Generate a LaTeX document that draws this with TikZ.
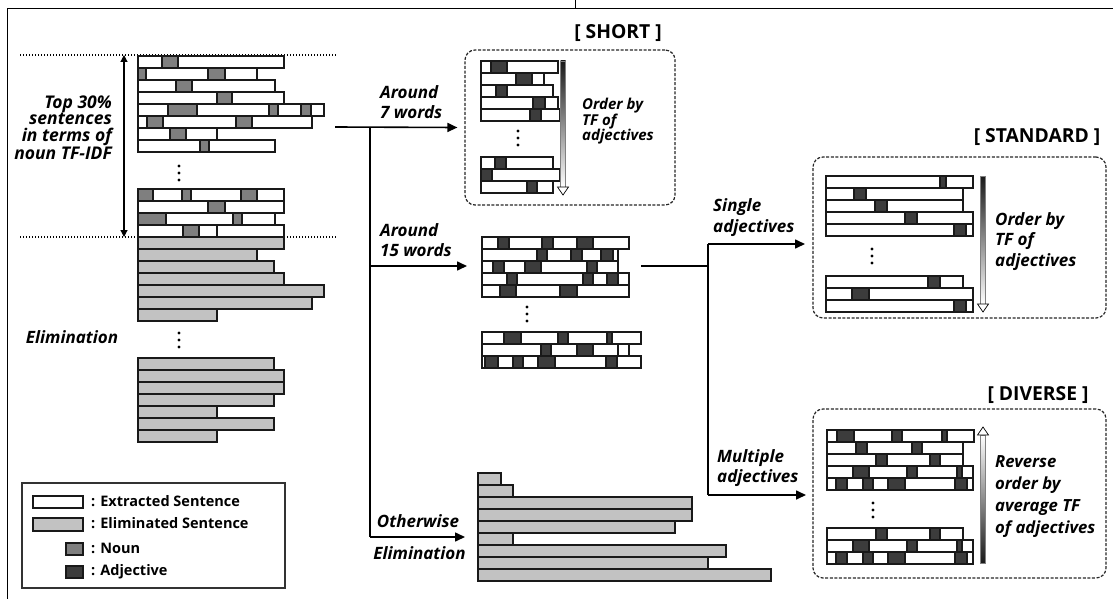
\documentclass[tikz,border=0pt]{standalone}
\usepackage{fontspec}
\setmainfont{Open Sans}
\usetikzlibrary{arrows.meta}
\definecolor{nounc}{HTML}{7F7F7F}
\definecolor{adjc}{HTML}{3C3C3C}
\definecolor{elimc}{HTML}{C2C2C2}
\tikzset{
  bar/.style={draw=black!90, line width=1.1pt, fill=white},
  dashbox/.style={draw=black!85, line width=1.2pt, dash pattern=on 3pt off 1.6pt, rounded corners=10pt, inner sep=0pt},
  conn/.style={line width=1.6pt, -{Triangle[length=10pt,width=9pt]}},
  plain/.style={line width=1.6pt},
  frame/.style={line width=1pt},
  dotline/.style={line width=1.6pt, dash pattern=on 1.4pt off 1.6pt},
  lab/.style={font=\bfseries\itshape\fontsize{17}{20.5}\selectfont, inner sep=0pt},
  side/.style={font=\bfseries\itshape\fontsize{17}{15}\selectfont, inner sep=0pt},
  title/.style={font=\bfseries\fontsize{19.3}{22}\selectfont, inner sep=0pt},
  legtext/.style={font=\bfseries\fontsize{14.5}{18}\selectfont, inner sep=0pt, anchor=west},
}
\newcommand\sent[4]{%
  \draw[bar] (#2,#1) rectangle (#3,#1+12);
  \foreach \ca/\cb/\cc in {#4} {\draw[bar,fill=\cc] (\ca,#1) rectangle (\cb,#1+12);}
}
\newcommand\ebar[3]{\draw[bar,fill=elimc] (#2,#1) rectangle (#3,#1+12);}
\newcommand\tdots[2]{\foreach \dd in {0,7,14} {\fill (#1,#2+\dd) circle (1.6pt);}}
\newcommand\gdown[3]{% x, top, tip
  \shade[top color=black!90, bottom color=white, draw=black!50, line width=0.4pt] (#1-2.5,#2) rectangle (#1+2.5,#3-8);
  \draw[line width=0.7pt, fill=white] (#1-5.5,#3-8) -- (#1+5.5,#3-8) -- (#1,#3) -- cycle;}
\newcommand\gup[3]{% x, tip, bottom
  \shade[top color=white, bottom color=black!90, draw=black!50, line width=0.4pt] (#1-2.5,#2+8) rectangle (#1+2.5,#3);
  \draw[line width=0.7pt, fill=white] (#1-5.5,#2+8) -- (#1+5.5,#2+8) -- (#1,#2) -- cycle;}
\begin{document}
\begin{tikzpicture}[x=1pt,y=-1pt]
\useasboundingbox (0,0) rectangle (1113,599);
% frame
\draw[frame] (7,599) -- (7,9) -- (1113,9);
\draw[frame] (575,0) -- (575,9);

% ---------- left block ----------
\draw[dotline] (20,55) -- (337,55);
\draw[dotline] (20,237) -- (337,237);
\sent{56}{138}{284}{162/178/nounc}
\sent{68}{138}{257}{138/146/nounc,208/225/nounc}
\sent{80}{138}{275}{176/192/nounc}
\sent{92}{138}{284}{217/232/nounc}
\sent{104}{138}{324}{168/197/nounc,269/278/nounc,301/311/nounc}
\sent{116}{138}{312}{147/163/nounc,236/252/nounc}
\sent{128}{138}{217}{170/186/nounc}
\sent{140}{138}{275}{200/209/nounc}
\tdots{179}{166}
\sent{189}{138}{284}{138/153/nounc,182/191/nounc,241/257/nounc}
\sent{201}{138}{284}{208/225/nounc}
\sent{213}{138}{275}{138/166/nounc,233/242/nounc}
\sent{225}{138}{284}{183/199/nounc,217/217/white}
\ebar{237}{138}{284}
\ebar{249}{138}{257}
\ebar{261}{138}{274}
\ebar{273}{138}{284}
\ebar{285}{138}{324}
\ebar{297}{138}{312}
\ebar{309}{138}{217}
\tdots{179}{333}
\ebar{358}{138}{274}
\ebar{370}{138}{284}
\ebar{382}{138}{284}
\ebar{394}{138}{274}
\ebar{406}{138}{217}
\ebar{418}{138}{274}
\ebar{430}{138}{217}
\coordinate (rngT) at (124,55);
\coordinate (rngB) at (124,237);
\draw[line width=1.2pt, {Triangle[length=7pt,width=7pt]}-{Triangle[length=7pt,width=7pt]}] (rngT) -- (rngB);
\node[side, align=right, anchor=east, font=\bfseries\itshape\fontsize{17.5}{16.5}\selectfont] (toplab) at (112,127.5) {Top 30\%\\sentences\\in terms of\\noun TF-IDF};
\node[side] (elimlab) at (72,337) {Elimination};

% ---------- SHORT ----------
\node[title] (shortT) at (618,33) {[ SHORT ]};
\node[dashbox, minimum width=210pt, minimum height=155pt] (short) at (570,127.5) {};
\sent{61}{481}{558}{491/507/adjc}
\sent{73}{481}{544}{516/532/adjc}
\sent{85}{481}{553}{496/507/adjc}
\sent{97}{481}{558}{533/545/adjc}
\sent{109}{481}{560}{530/541/adjc}
\tdots{518}{131}
\sent{157}{481}{553}{495/506/adjc}
\sent{169}{481}{560}{481/492/adjc}
\sent{181}{481}{553}{527/537/adjc}
\gdown{563}{61}{195}
\node[lab, align=left, anchor=west, font=\bfseries\itshape\fontsize{15}{15.5}\selectfont] (shortord) at (582,121.5) {Order by\\TF of\\adjectives};

% ---------- middle block ----------
\sent{237}{482}{629}{498/509/adjc,542/553/adjc,577/593/adjc}
\sent{249}{482}{618}{537/547/adjc,571/582/adjc,601/613/adjc}
\sent{261}{482}{618}{493/504/adjc,525/541/adjc,587/597/adjc}
\sent{273}{482}{629}{507/517/adjc,583/593/adjc,607/618/adjc}
\sent{285}{482}{629}{500/516/adjc,560/577/adjc}
\tdots{527}{307}
\sent{332}{482}{641}{504/521/adjc,558/568/adjc,607/612/adjc}
\sent{344}{482}{629}{541/551/adjc,577/593/adjc,618/618/white}
\sent{356}{482}{641}{485/498/adjc,513/523/adjc,538/555/adjc,606/617/adjc}

% ---------- bottom eliminated ----------
\ebar{473}{478}{501}
\ebar{485}{478}{513}
\ebar{497}{478}{692}
\ebar{509}{478}{692}
\ebar{521}{478}{675}
\ebar{533}{478}{513}
\ebar{545}{478}{726}
\ebar{557}{478}{708}
\ebar{569}{478}{771}

% ---------- STANDARD ----------
\node[title] (stdT) at (1037,137) {[ STANDARD ]};
\node[dashbox, minimum width=293pt, minimum height=161pt] (standard) at (959.5,237.5) {};
\sent{176}{826}{973}{940/946/adjc}
\sent{188}{826}{963}{854/866/adjc}
\sent{200}{826}{963}{875/887/adjc}
\sent{212}{826}{973}{905/917/adjc}
\sent{224}{826}{973}{954/966/adjc}
\tdots{872}{249}
\sent{276}{826}{963}{928/940/adjc}
\sent{288}{826}{973}{852/869/adjc}
\sent{300}{826}{973}{954/966/adjc}
\gdown{983}{176}{312}
\node[lab, align=left, anchor=west] (stdord) at (995,241.5) {Order by\\TF of\\adjectives};

% ---------- DIVERSE ----------
\node[title] (divT) at (1038,395) {[ DIVERSE ]};
\node[dashbox, minimum width=293pt, minimum height=169pt] (diverse) at (959.5,493.5) {};
\sent{430}{827}{974}{837/854/adjc,892/902/adjc,942/947/adjc}
\sent{442}{827}{963}{856/867/adjc,912/922/adjc}
\sent{454}{827}{963}{876/887/adjc,930/940/adjc}
\sent{466}{827}{973}{853/869/adjc,907/917/adjc,957/962/adjc}
\sent{478}{827}{973}{836/847/adjc,863/873/adjc,888/905/adjc,955/967/adjc}
\tdots{873}{503}
\sent{528}{827}{963}{876/887/adjc,930/940/adjc}
\sent{540}{827}{973}{853/869/adjc,907/917/adjc,957/962/adjc}
\sent{552}{827}{973}{836/847/adjc,863/873/adjc,888/905/adjc,955/967/adjc}
\gup{983}{427}{563}
\node[lab, align=left, anchor=west, font=\bfseries\itshape\fontsize{16.7}{22}\selectfont] (divord) at (995,497) {Reverse\\order by\\average TF\\of adjectives};

% ---------- connectors ----------
\coordinate (topE) at (335,127);
\coordinate (split) at (370,127);
\coordinate (midW) at (467,266);
\coordinate (elimW) at (465,537);
\coordinate (midE) at (641,266);
\coordinate (split2) at (708,266);
\coordinate (sglE) at (805,244);
\coordinate (mulE) at (806,495);
\draw[conn] (topE) -- ([xshift=-7pt]short.west);
\draw[plain] (split) -- (split |- elimW);
\draw[conn] (split |- midW) -- (midW);
\draw[conn] (split |- elimW) -- (elimW);
\draw[plain] (midE) -- (split2);
\draw[plain] (split2 |- sglE) -- (split2 |- mulE);
\draw[conn] (split2 |- sglE) -- (sglE);
\draw[conn] (split2 |- mulE) -- (mulE);

% labels on connectors
\node[lab, align=left, anchor=west] (a7) at (380,102) {Around\\7 words};
\node[lab, align=left, anchor=west] (a15) at (380,240) {Around\\15 words};
\node[lab] (oth) at (418,521) {Otherwise};
\node[lab] (othel) at (419.5,553) {Elimination};
\node[lab, align=left, anchor=west] (sgl) at (713,217.5) {Single\\adjectives};
\node[lab, align=left, anchor=west] (mul) at (717,468) {Multiple\\adjectives};

% ---------- legend ----------
\node[draw=black!80, line width=1.2pt, minimum width=263pt, minimum height=105pt, inner sep=0pt] (legend) at (153.5,535.5) {};
\draw[bar] (33,496) rectangle (83,508);
\draw[bar,fill=elimc] (33,518) rectangle (83,531);
\draw[bar,fill=nounc] (66,543) rectangle (83,555);
\draw[bar,fill=adjc] (66,566) rectangle (83,578);
\node[legtext] (l1) at (91,501) {: Extracted Sentence};
\node[legtext] (l2) at (91,523.5) {: Eliminated Sentence};
\node[legtext] (l3) at (91,548) {: Noun};
\node[legtext] (l4) at (91,572) {: Adjective};
\end{tikzpicture}
\end{document}
